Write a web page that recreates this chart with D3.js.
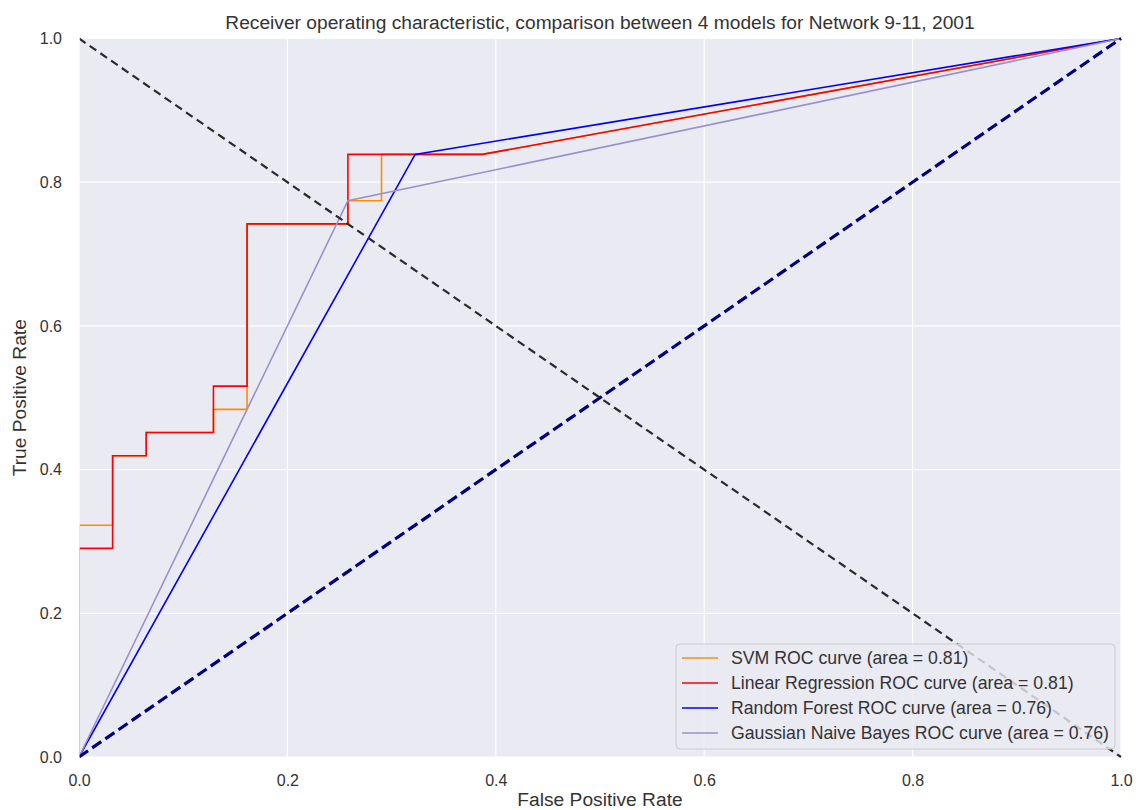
<!DOCTYPE html>
<html>
<head>
<meta charset="utf-8">
<script src="https://cdn.jsdelivr.net/npm/d3@7"></script>
<style>
  body { margin: 0; background: #fff; }
  text { font-family: "Liberation Sans", Arial, sans-serif; fill: #333; }
</style>
</head>
<body>
<div id="chart"></div>
<script>
// 31 negatives / 31 positives, values read as k/31
const n = 31;
const svmFpr = [0, 0, 1, 1, 2, 2, 4, 4, 5, 5, 8, 8, 9, 9, 12, 31];
const svmTpr = [0, 10, 10, 13, 13, 14, 14, 15, 15, 23, 23, 24, 24, 26, 26, 31];
const lrFpr = [0, 0, 1, 1, 2, 2, 4, 4, 5, 5, 8, 8, 12, 31];
const lrTpr = [0, 9, 9, 13, 13, 14, 14, 16, 16, 23, 23, 26, 26, 31];
const rfFpr = [0, 10, 31];
const rfTpr = [0, 26, 31];
const gnbFpr = [0, 8, 31];
const gnbTpr = [0, 24, 31];

const labels = [
  'SVM ROC curve (area = 0.81)',
  'Linear Regression ROC curve (area = 0.81)',
  'Random Forest ROC curve (area = 0.76)',
  'Gaussian Naive Bayes ROC curve (area = 0.76)'
];
const colors = ['darkorange', 'red', 'blue', '#9a90cf'];
const ticks = [0, 0.2, 0.4, 0.6, 0.8, 1.0];

const width = 1136, height = 810;
const margin = {top: 38.5, right: 15, bottom: 53, left: 79};

const svg = d3.select('#chart').append('svg')
  .attr('width', width)
  .attr('height', height);

const x = d3.scaleLinear().domain([0, 1]).range([margin.left, width - margin.right]);
const y = d3.scaleLinear().domain([0, 1]).range([height - margin.bottom, margin.top]);

svg.append('rect')
  .attr('x', x(0)).attr('y', y(1))
  .attr('width', x(1) - x(0)).attr('height', y(0) - y(1))
  .attr('fill', '#eaeaf2');

svg.append('clipPath').attr('id', 'plot')
  .append('rect')
  .attr('x', x(0) + 0.8).attr('y', y(1) - 2)
  .attr('width', x(1) - x(0) + 2).attr('height', y(0) - y(1) + 4);

// grid
svg.append('g').selectAll('line').data(ticks).join('line')
  .attr('x1', d => x(d)).attr('x2', d => x(d))
  .attr('y1', y(0)).attr('y2', y(1))
  .attr('stroke', '#fff').attr('stroke-width', 1.2);
svg.append('g').selectAll('line').data(ticks).join('line')
  .attr('y1', d => y(d)).attr('y2', d => y(d))
  .attr('x1', x(0)).attr('x2', x(1))
  .attr('stroke', '#fff').attr('stroke-width', 1.2);

// axes (labels only)
const xAxis = svg.append('g')
  .attr('transform', `translate(0,${y(0)})`)
  .call(d3.axisBottom(x).tickValues(ticks).tickFormat(d3.format('.1f')).tickSize(0).tickPadding(18));
const yAxis = svg.append('g')
  .attr('transform', `translate(${x(0)},0)`)
  .call(d3.axisLeft(y).tickValues(ticks).tickFormat(d3.format('.1f')).tickSize(0).tickPadding(17));
[xAxis, yAxis].forEach(a => {
  a.select('.domain').remove();
  a.selectAll('text').attr('font-size', 16).attr('fill', '#333')
    .style('font-family', '"Liberation Sans", Arial, sans-serif');
});

const line = d3.line().x(d => x(d[0] / n)).y(d => y(d[1] / n));

const series = [
  [svmFpr, svmTpr],
  [lrFpr, lrTpr],
  [rfFpr, rfTpr],
  [gnbFpr, gnbTpr]
];

const clip = svg.append('g').attr('clip-path', 'url(#plot)');

series.forEach((s, i) => {
  const pts = s[0].map((f, j) => [f, s[1][j]]);
  clip.append('path')
    .attr('d', line(pts))
    .attr('fill', 'none')
    .attr('stroke', colors[i])
    .attr('stroke-width', 1.6);
});

// chance diagonal
clip.append('line')
  .attr('x1', x(0)).attr('y1', y(0)).attr('x2', x(1)).attr('y2', y(1))
  .attr('stroke', 'navy').attr('stroke-width', 3.2)
  .attr('stroke-dasharray', '11,5');

// black dashed anti-diagonal
clip.append('line')
  .attr('x1', x(0)).attr('y1', y(1)).attr('x2', x(1)).attr('y2', y(0))
  .attr('stroke', '#2a2a2a').attr('stroke-width', 2.2)
  .attr('stroke-dasharray', '8,5');

// legend
const lg = svg.append('g').attr('transform', 'translate(676,644)');
lg.append('rect')
  .attr('width', 439).attr('height', 105)
  .attr('rx', 4)
  .attr('fill', '#eaeaf2').attr('fill-opacity', 0.8)
  .attr('stroke', '#cccccc').attr('stroke-width', 1);
labels.forEach((t, i) => {
  const yy = 14 + i * 25;
  lg.append('line')
    .attr('x1', 6).attr('x2', 42).attr('y1', yy).attr('y2', yy)
    .attr('stroke', colors[i]).attr('stroke-width', 1.6);
  lg.append('text')
    .attr('x', 55).attr('y', yy).attr('dy', '0.35em')
    .attr('font-size', 17.7).text(t);
});

// title and axis labels
svg.append('text')
  .attr('x', (x(0) + x(1)) / 2).attr('y', 29)
  .attr('text-anchor', 'middle').attr('font-size', 19.2)
  .text('Receiver operating characteristic, comparison between 4 models for Network 9-11, 2001');
svg.append('text')
  .attr('x', (x(0) + x(1)) / 2).attr('y', 806)
  .attr('text-anchor', 'middle').attr('font-size', 19.2)
  .text('False Positive Rate');
svg.append('text')
  .attr('transform', `translate(26,${(y(0) + y(1)) / 2}) rotate(-90)`)
  .attr('text-anchor', 'middle').attr('font-size', 19.2)
  .text('True Positive Rate');
</script>
</body>
</html>
